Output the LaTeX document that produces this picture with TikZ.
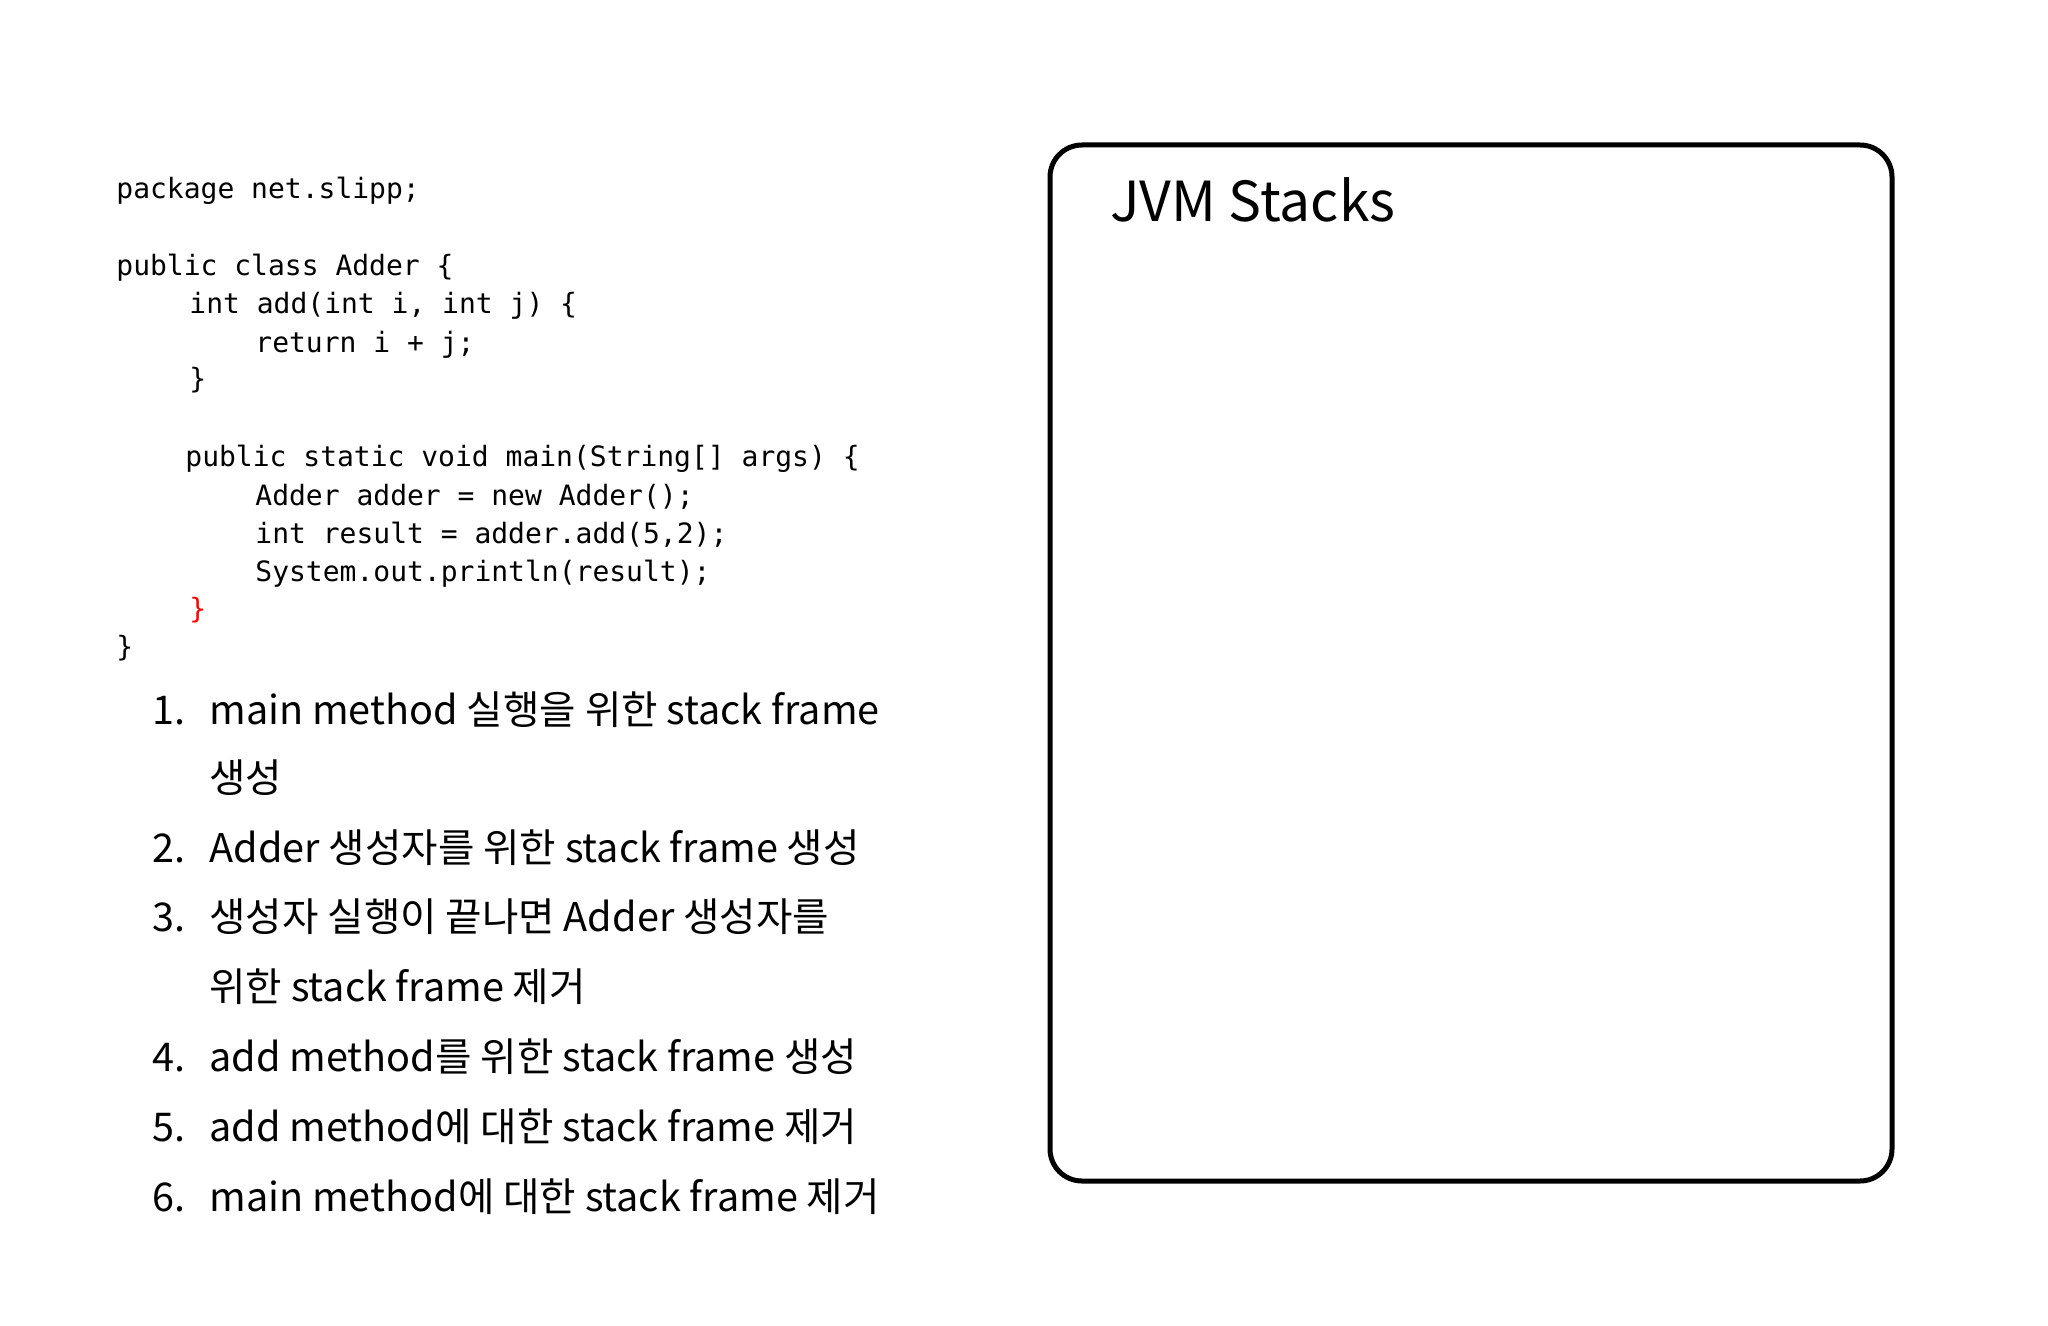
\documentclass[tikz,border=0pt]{standalone}
\usepackage{fontspec}
\setmainfont{Noto Sans CJK KR}
\newfontfamily\codefont{DejaVu Sans Mono}
\newfontfamily\krfont{Noto Sans CJK KR}
\begin{document}
\begin{tikzpicture}[x=0.5pt,y=-0.5pt,
  code/.style={anchor=mid west,inner sep=0pt,font=\codefont\fontsize{14}{16}\selectfont},
  item/.style={anchor=mid west,inner sep=0pt,font=\krfont\fontsize{19.8}{22}\selectfont},
  frame/.style={draw=black,line width=2.5pt,rounded corners=16pt}]
\useasboundingbox (0,0) rectangle (2048,1326);
\draw[frame] (1050,145) rectangle (1892,1181);
\node[anchor=mid west,inner sep=0pt,font=\krfont\fontsize{27.6}{32}\selectfont] (title) at (1110,216) {JVM Stacks};
\node[code] (c1) at (116,193) {package net.slipp;};
\node[code] (c2) at (116,270) {public class Adder \{};
\node[code] (c3) at (189,308) {int add(int i, int j) \{};
\node[code] (c4) at (255,347) {return i + j;};
\node[code] (c5) at (189,383) {\}};
\node[code] (c6) at (185,461) {public static void main(String[] args) \{};
\node[code] (c7) at (255,500) {Adder adder = new Adder();};
\node[code] (c8) at (255,538) {int result = adder.add(5,2);};
\node[code] (c9) at (255,576) {System.out.println(result);};
\node[code,text=red] (c10) at (189,613) {\}};
\node[code] (c11) at (116,651) {\}};
\foreach \n/\y in {1/719,2/857,3/926,4/1066,5/1136,6/1206}
  \node[item] (n\n) at (152,\y) {\n.};
\node[item] (t1) at (209,719) {main method 실행을 위한 stack frame};
\node[item] (t1b) at (209,787) {생성};
\node[item] (t2) at (209,857) {Adder 생성자를 위한 stack frame 생성};
\node[item] (t3) at (209,926) {생성자 실행이 끝나면 Adder 생성자를};
\node[item] (t3b) at (209,996) {위한 stack frame 제거};
\node[item] (t4) at (209,1066) {add method를 위한 stack frame 생성};
\node[item] (t5) at (209,1136) {add method에 대한 stack frame 제거};
\node[item] (t6) at (209,1206) {main method에 대한 stack frame 제거};
\end{tikzpicture}
\end{document}
